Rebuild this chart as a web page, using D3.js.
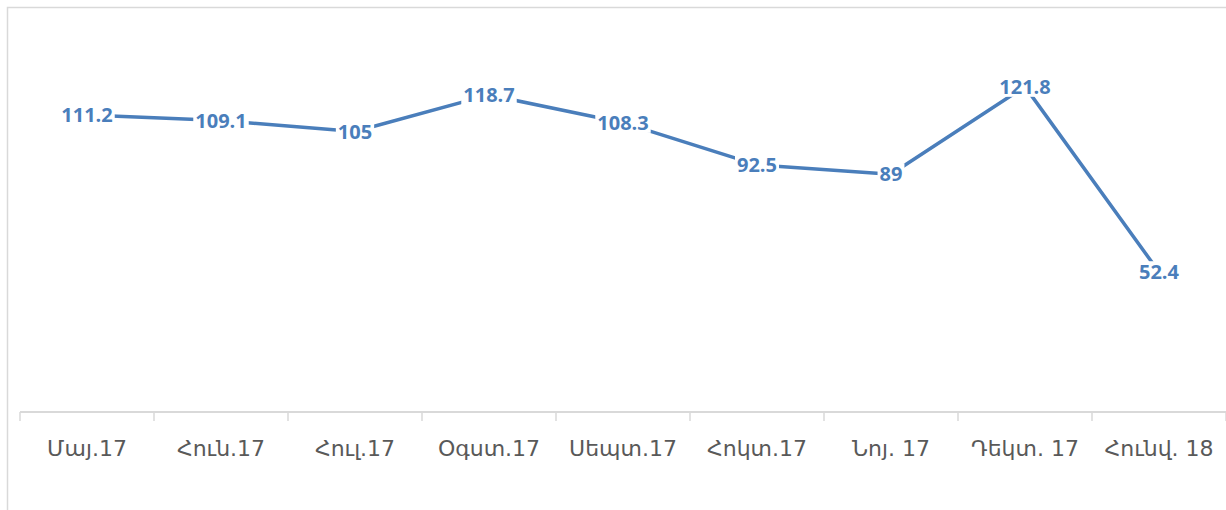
<!DOCTYPE html>
<html>
<head>
<meta charset="utf-8">
<script src="https://cdn.jsdelivr.net/npm/d3@7"></script>
<style>
  body { margin: 0; background: #fff; }
  svg { display: block; }
</style>
</head>
<body>
<div id="chart"></div>
<script>
const months = ["Մայ.17", "Հուն.17", "Հուլ.17", "Օգստ.17", "Սեպտ.17", "Հոկտ.17", "Նոյ. 17", "Դեկտ. 17", "Հունվ. 18"];
const values = [111.2, 109.1, 105, 118.7, 108.3, 92.5, 89, 121.8, 52.4];
const yDomain = [0, 140];

const width = 1226, height = 510;
const lineColor = "#4a7ebb";

const svg = d3.select("#chart").append("svg")
    .attr("width", width)
    .attr("height", height);

// outer frame (runs off the right and bottom edges)
svg.append("rect")
    .attr("x", 7.5).attr("y", 7.5)
    .attr("width", width + 10).attr("height", height + 10)
    .attr("fill", "none")
    .attr("stroke", "#d9d9d9")
    .attr("stroke-width", 1.5);

const x = d3.scaleBand().domain(months).range([20, 1226]).padding(0);
const y = d3.scaleLinear().domain(yDomain).range([412, 38]);

// x axis
const axis = svg.append("g")
    .attr("transform", "translate(0,412)")
    .call(d3.axisBottom(x).tickSize(0).tickPadding(0));
axis.select(".domain").remove();
axis.selectAll("text").remove();

axis.append("line")
    .attr("x1", 20).attr("x2", 1226)
    .attr("stroke", "#d9d9d9").attr("stroke-width", 2);

const bounds = months.map(m => x(m)).concat([x(months[months.length - 1]) + x.bandwidth()]);
axis.selectAll("line.tick-mark")
    .data(bounds)
    .enter()
    .append("line")
    .classed("tick-mark", true)
    .attr("x1", d => d).attr("x2", d => d)
    .attr("y1", 0).attr("y2", 9)
    .attr("stroke", "#d9d9d9").attr("stroke-width", 1.5);

axis.selectAll("text.cat")
    .data(months)
    .enter()
    .append("text")
    .classed("cat", true)
    .attr("x", d => x(d) + x.bandwidth() / 2)
    .attr("y", 44)
    .attr("text-anchor", "middle")
    .attr("fill", "#595959")
    .style("font-family", "'DejaVu Sans', sans-serif")
    .style("font-size", "22px")
    .text(d => d);

// line
const pts = months.map((m, i) => [x(m) + x.bandwidth() / 2, y(values[i])]);

svg.append("path")
    .datum(pts)
    .attr("fill", "none")
    .attr("stroke", lineColor)
    .attr("stroke-width", 3.5)
    .attr("stroke-linejoin", "round")
    .attr("d", d3.line());

// data labels, centred on the points with a white box behind them
const labels = svg.selectAll("g.lbl")
    .data(values)
    .enter()
    .append("g")
    .classed("lbl", true)
    .attr("transform", (d, i) => `translate(${pts[i][0]},${pts[i][1]})`);

labels.append("text")
    .attr("text-anchor", "middle")
    .attr("dy", "0.36em")
    .attr("fill", lineColor)
    .style("font-family", "'Open Sans', sans-serif")
    .style("font-weight", 700)
    .style("font-size", "20px")
    .text(d => d);

labels.each(function() {
    const g = d3.select(this);
    const bb = g.select("text").node().getBBox();
    g.insert("rect", "text")
        .attr("x", bb.x - 2)
        .attr("y", bb.y + 3)
        .attr("width", bb.width + 4)
        .attr("height", bb.height - 6)
        .attr("fill", "#fff");
});
</script>
</body>
</html>
